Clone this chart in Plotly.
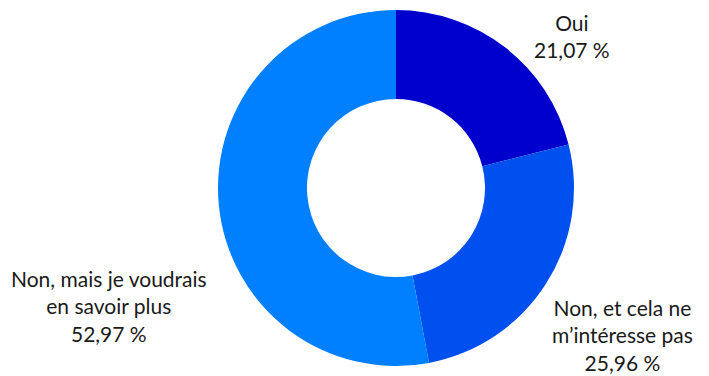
import plotly.graph_objects as go

labels = ["Oui", "Non, et cela ne m’intéresse pas", "Non, mais je voudrais en savoir plus"]
values = [21.07, 25.96, 52.97]
colors = ["#0000CC", "#0050F0", "#0080FF"]
label_texts = ["Oui<br>21,07 %", "Non, et cela ne<br>m’intéresse pas<br>25,96 %",
               "Non, mais je voudrais<br>en savoir plus<br>52,97 %"]
label_pos = [(572, 36), (622, 335), (109, 306)]  # pixel centres of the text blocks

W, H = 709, 376
cx, cy, r = 396, 188, 178

fig = go.Figure(go.Pie(
    labels=labels, values=values, hole=0.5, sort=False, direction="clockwise",
    rotation=0, marker=dict(colors=colors, line=dict(width=0)),
    textinfo="none", hoverinfo="label+percent", showlegend=False,
    domain=dict(x=[(cx - r) / W, (cx + r) / W], y=[1 - (cy + r) / H, 1 - (cy - r) / H]),
))

for t, (px, py) in zip(label_texts, label_pos):
    fig.add_annotation(text=t, x=px / W, y=1 - py / H, xref="paper", yref="paper",
                       showarrow=False, xanchor="center", yanchor="middle", align="center",
                       font=dict(family="Lato", size=21, color="#1a1a1a"))

fig.update_layout(width=W, height=H, margin=dict(l=0, r=0, t=0, b=0),
                  paper_bgcolor="white", plot_bgcolor="white")
fig.write_html("out.html")
